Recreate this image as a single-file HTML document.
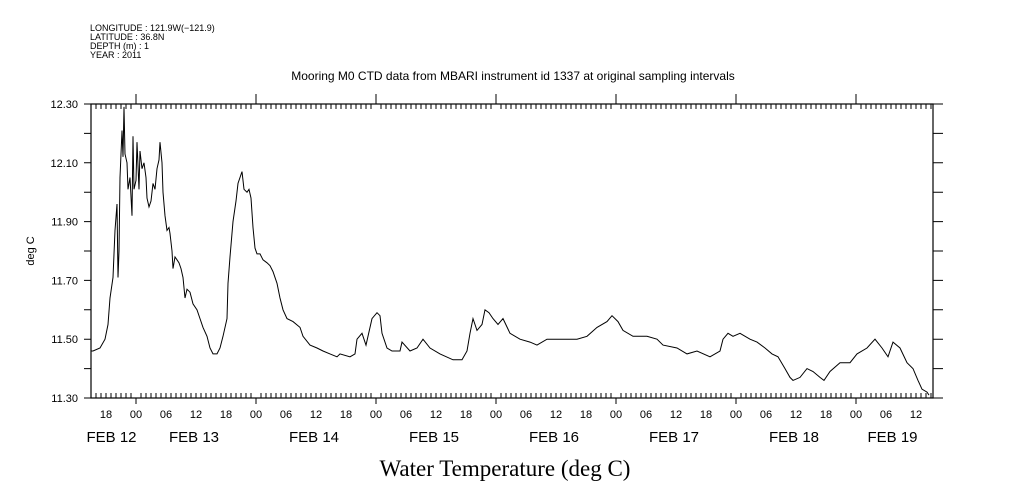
<!DOCTYPE html>
<html><head><meta charset="utf-8"><style>
body{margin:0;background:#fff}
svg{display:block}
text{font-family:"Liberation Sans",sans-serif;fill:#000}
</style></head><body>
<svg id="chart" width="1009" height="504" viewBox="0 0 1009 504" xmlns="http://www.w3.org/2000/svg">
<g font-size="9">
<text x="90" y="31">LONGITUDE : 121.9W(−121.9)</text>
<text x="90" y="40">LATITUDE : 36.8N</text>
<text x="90" y="49">DEPTH (m) : 1</text>
<text x="90" y="58">YEAR : 2011</text>
</g>
<text x="513" y="80" font-size="12" text-anchor="middle">Mooring M0 CTD data from MBARI instrument id 1337 at original sampling intervals</text>
<text transform="translate(34,251) rotate(-90)" font-size="11" text-anchor="middle">deg C</text>
<text x="505" y="476" font-size="23" text-anchor="middle" style="font-family:'Liberation Serif',serif">Water Temperature (deg C)</text>
<g id="axes"></g>
<g id="series"></g>
</svg>
<script>
const hours=[0,0.4,1.8,2.8,3.4,3.8,4.4,4.8,5.2,5.4,5.6,5.8,6.2,6.4,6.6,6.8,7.2,7.4,7.8,8.2,8.4,8.6,9.0,9.2,9.6,9.8,10.2,10.6,11.0,11.2,11.6,12.0,12.4,12.8,13.2,13.6,13.8,14.2,14.4,14.8,15.2,15.6,15.8,16.2,16.4,16.8,17.2,17.6,18.0,18.4,18.8,19.2,19.8,20.4,21.2,21.8,22.4,23.2,23.8,24.4,25.2,25.8,26.4,27.2,27.4,27.8,28.4,29.0,29.4,30.2,30.6,31.2,31.6,32.0,32.4,32.8,33.2,33.8,34.4,35.2,35.8,36.4,37.2,37.8,38.4,39.2,40.4,41.8,42.4,43.8,45.2,46.4,47.8,49.2,49.8,51.8,52.8,53.2,54.2,55.0,56.2,57.2,57.8,58.2,59.2,60.2,61.8,62.2,63.8,65.2,66.4,67.8,69.8,72.4,74.2,75.2,75.8,76.4,77.2,78.2,78.8,79.6,80.4,81.4,82.4,83.8,85.8,87.8,89.2,91.2,94.4,97.2,99.2,101.2,103.2,104.2,105.4,106.4,108.4,111.2,113.2,114.4,117.2,119.2,121.2,123.8,125.8,126.4,127.4,128.4,129.8,131.8,133.2,134.8,136.2,137.4,138.8,139.8,140.4,141.8,143.2,144.4,145.8,146.6,147.8,149.8,151.8,153.2,155.2,156.8,158.2,159.4,160.4,161.8,163.2,164.4,165.4,166.2,167.2,167.6];
const temps=[11.46,11.46,11.47,11.50,11.55,11.64,11.71,11.87,11.96,11.71,11.80,12.05,12.21,12.12,12.29,12.13,12.10,12.01,12.05,11.92,12.19,12.01,12.04,12.17,12.01,12.14,12.08,12.10,12.05,11.98,11.95,11.97,12.03,12.01,12.08,12.11,12.17,12.10,12.00,11.92,11.87,11.88,11.86,11.80,11.74,11.78,11.77,11.76,11.74,11.71,11.64,11.67,11.66,11.62,11.60,11.57,11.54,11.51,11.47,11.45,11.45,11.47,11.51,11.57,11.69,11.78,11.90,11.97,12.03,12.07,12.01,12.00,12.01,11.98,11.88,11.81,11.79,11.79,11.77,11.76,11.75,11.73,11.69,11.64,11.60,11.57,11.56,11.54,11.51,11.48,11.47,11.46,11.45,11.44,11.45,11.44,11.45,11.50,11.52,11.48,11.57,11.59,11.58,11.52,11.47,11.46,11.46,11.49,11.46,11.47,11.50,11.47,11.45,11.43,11.43,11.46,11.52,11.57,11.53,11.55,11.60,11.59,11.57,11.55,11.57,11.52,11.50,11.49,11.48,11.50,11.50,11.50,11.51,11.54,11.56,11.58,11.56,11.53,11.51,11.51,11.50,11.48,11.47,11.45,11.46,11.44,11.46,11.50,11.52,11.51,11.52,11.50,11.49,11.47,11.45,11.44,11.40,11.37,11.36,11.37,11.40,11.39,11.37,11.36,11.39,11.42,11.42,11.45,11.47,11.50,11.47,11.44,11.49,11.47,11.42,11.40,11.36,11.33,11.32,11.31];
const yTickLabels=["12.30","12.10","11.90","11.70","11.50","11.30"];
const dayLabels=["FEB 12","FEB 13","FEB 14","FEB 15","FEB 16","FEB 17","FEB 18","FEB 19"];
const hourLabels=["18","00","06","12"];

const L=91,R=933,T=104,B=398,START=15,TOTAL=168.4,YMIN=11.3,YMAX=12.3;
const xS=h=>L+(h)*(R-L)/TOTAL;
const yS=v=>B-(v-YMIN)*(B-T)/(YMAX-YMIN);
const NS="http://www.w3.org/2000/svg";
const ax=document.getElementById('axes');
function mk(tag,attrs,parent){const e=document.createElementNS(NS,tag);for(const k in attrs)e.setAttribute(k,attrs[k]);(parent||ax).appendChild(e);return e;}
let p="";
const frame=mk('rect',{x:L,y:T,width:R-L,height:B-T,fill:'none',stroke:'#000','stroke-width':1.2});


for(let i=0;i<=10;i++){const v=YMIN+i*0.1;const y=yS(v);p+=`M${L-7},${y}H${L}M${R},${y}H${R+10}`;}
yTickLabels.forEach(s=>{const t=mk('text',{x:L-13,y:yS(parseFloat(s))+4,'font-size':11,'text-anchor':'end'});t.textContent=s;

});
for(let h=0;h<=TOTAL;h++){const x=xS(h);const hr=(h+START)%24;
 if(hr===0){p+=`M${x},${B}V${B+6}M${x},${T}V${T-10}`;}
 else{p+=`M${x},${B}V${B-5}M${x},${T}V${T+5}`;}
 if(hr%6===0){const t=mk('text',{x:x,y:B+20,'font-size':11,'text-anchor':'middle'});t.textContent=hourLabels[[18,0,6,12].indexOf(hr)];
 
 }
}
const tk=mk('path',{d:p,stroke:'#000','stroke-width':1,fill:'none'});


dayLabels.forEach((s,i)=>{let a=i*24-24+9,b=a+24;a=Math.max(a,0);b=Math.min(b,TOTAL);
 const t=mk('text',{x:(xS(a)+xS(b))/2-2,y:B+44,'font-size':15,'text-anchor':'middle'});t.textContent=s;
 
 });
const d=hours.map((h,i)=>(i?'L':'M')+xS(h).toFixed(1)+','+yS(temps[i]).toFixed(1)).join('');
const line=mk('path',{d:d,stroke:'#000','stroke-width':1,fill:'none'},document.getElementById('series'));


</script>
</body></html>
